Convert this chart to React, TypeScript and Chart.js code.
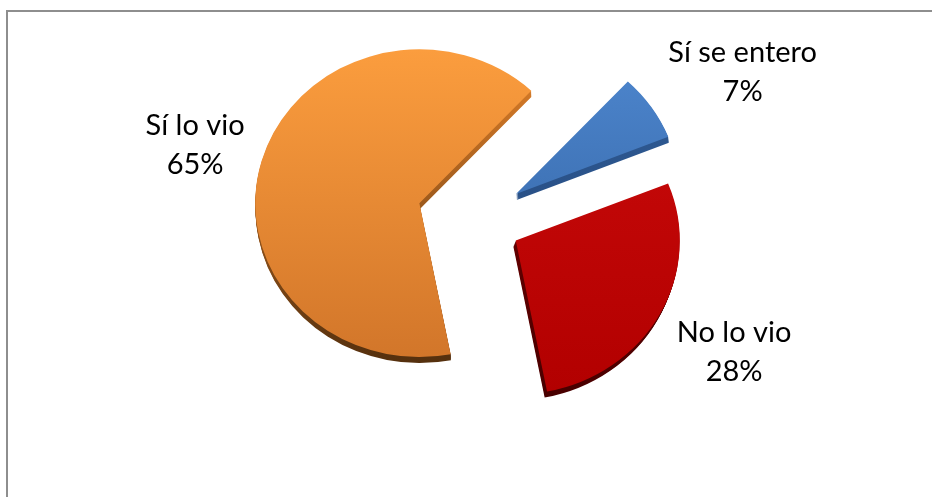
import React, { useEffect, useRef } from "react";
import { Chart, registerables } from "chart.js";

Chart.register(...registerables);

// ---- data ----
const categories = ["Sí se entero", "No lo vio", "Sí lo vio"];
const percentages = [7, 28, 65];
const percentLabels = ["7%", "28%", "65%"];

// ---- styles ----
const TOP_COLORS = [
  ["#4f88d0", "#2f5f9e"],
  ["#c90a0a", "#b20000"],
  ["#fb9d3e", "#d2762a"],
];
const SIDE_COLORS = [
  ["#33629e", "#1f3f70"],
  ["#7a0000", "#480000"],
  ["#e3822a", "#55300e"],
];
const EXPLODE = [46, 43, 61];
const DEPTH = 6;
const DEPTH_DX = [0.1, -0.4, 0.05];
const SCALE_X = 1.045;
const SCALE_Y = 0.98;
const FONT_SIZE = 29;
const FONT_FAMILY = "Lato, 'Liberation Sans', sans-serif";
const FRAME_COLOR = "#8e8e8e";

export default function App() {
  const ref = useRef<HTMLCanvasElement>(null);

  useEffect(() => {
    const canvas = ref.current!;
    document.body.style.overflow = "hidden";

    const shiftOf = (arc: any, i: number) => {
      const h = (arc.startAngle + arc.endAngle) / 2;
      return [Math.cos(h) * EXPLODE[i], Math.sin(h) * EXPLODE[i], h];
    };

    const drawArcAt = (ctx: CanvasRenderingContext2D, arc: any, i: number, fill: any, ox: number, oy: number) => {
      const [dx, dy] = shiftOf(arc, i);
      const fake = Object.create(arc);
      fake.options = { ...arc.options, offset: 0, borderWidth: 0, backgroundColor: fill };
      ctx.save();
      ctx.translate(arc.x + dx + ox, arc.y + dy + oy);
      ctx.scale(SCALE_X, SCALE_Y);
      ctx.translate(-arc.x, -arc.y);
      fake.draw(ctx);
      ctx.restore();
    };

    const frame = {
      id: "frame",
      beforeDraw(chart: any) {
        const ctx = chart.ctx as CanvasRenderingContext2D;
        ctx.save();
        ctx.fillStyle = "#ffffff";
        ctx.fillRect(0, 0, chart.width, chart.height);
        ctx.fillStyle = FRAME_COLOR;
        ctx.fillRect(6, 10, chart.width - 6, 2);
        ctx.fillRect(6, 10, 2, chart.height - 10);
        ctx.restore();
      },
    };

    const pie3d = {
      id: "pie3d",
      beforeDatasetsDraw(chart: any) {
        const meta = chart.getDatasetMeta(0);
        const ctx = chart.ctx as CanvasRenderingContext2D;
        const arcs = meta.data as any[];
        if (!arcs.length) return;
        const R = arcs[0].outerRadius;
        const cy = arcs[0].y;
        arcs.forEach((arc, i) => {
          const g = ctx.createLinearGradient(0, cy - R, 0, cy + R);
          g.addColorStop(0, SIDE_COLORS[i][0]);
          g.addColorStop(1, SIDE_COLORS[i][1]);
          for (let k = DEPTH; k >= 1; k--) {
            drawArcAt(ctx, arc, i, g, DEPTH_DX[i] * k, k);
          }
        });
        arcs.forEach((arc, i) => {
          const g = ctx.createLinearGradient(0, cy - R, 0, cy + R);
          g.addColorStop(0, TOP_COLORS[i][0]);
          g.addColorStop(1, TOP_COLORS[i][1]);
          drawArcAt(ctx, arc, i, g, 0, 0);
        });
        return false;
      },
      afterDraw(chart: any) {
        const meta = chart.getDatasetMeta(0);
        const ctx = chart.ctx as CanvasRenderingContext2D;
        const arcs = meta.data as any[];
        ctx.save();
        ctx.font = `${FONT_SIZE}px ${FONT_FAMILY}`;
        ctx.fillStyle = "#000000";
        ctx.textAlign = "center";
        ctx.textBaseline = "alphabetic";
        arcs.forEach((arc, i) => {
          const [dx, dy, h] = shiftOf(arc, i);
          const R = arc.outerRadius;
          const ax = arc.x + dx + Math.cos(h) * R * SCALE_X;
          const ay = arc.y + dy + Math.sin(h) * R * SCALE_Y;
          const w = Math.max(ctx.measureText(categories[i]).width, ctx.measureText(percentLabels[i]).width);
          const lx = ax + Math.sign(Math.cos(h)) * (w / 2 + 17);
          const ly = ay + Math.sin(h) * 70 + 4;
          ctx.fillText(categories[i], lx, ly - 10);
          ctx.fillText(percentLabels[i], lx, ly + 29);
        });
        ctx.restore();
      },
    };

    const chart = new Chart(canvas, {
      type: "pie",
      data: {
        labels: categories,
        datasets: [
          {
            data: percentages,
            backgroundColor: TOP_COLORS.map((c) => c[0]),
            borderWidth: 0,
          },
        ],
      },
      options: {
        responsive: false,
        animation: false,
        rotation: 43,
        radius: 157,
        layout: { padding: { left: 24, right: 0, top: 0, bottom: 57 } },
        plugins: {
          legend: { display: false },
          tooltip: { enabled: false },
        },
        events: [],
      },
      plugins: [frame, pie3d],
    });
    return () => chart.destroy();
  }, []);

  return (
    <div
      style={{
        position: "absolute",
        left: 0,
        top: 0,
        width: 932,
        height: 497,
        overflow: "hidden",
        background: "#ffffff",
      }}
    >
      <canvas
        ref={ref}
        width={932}
        height={497}
        style={{ position: "absolute", left: 0, top: 0, width: 932, height: 497, display: "block" }}
      />
    </div>
  );
}
